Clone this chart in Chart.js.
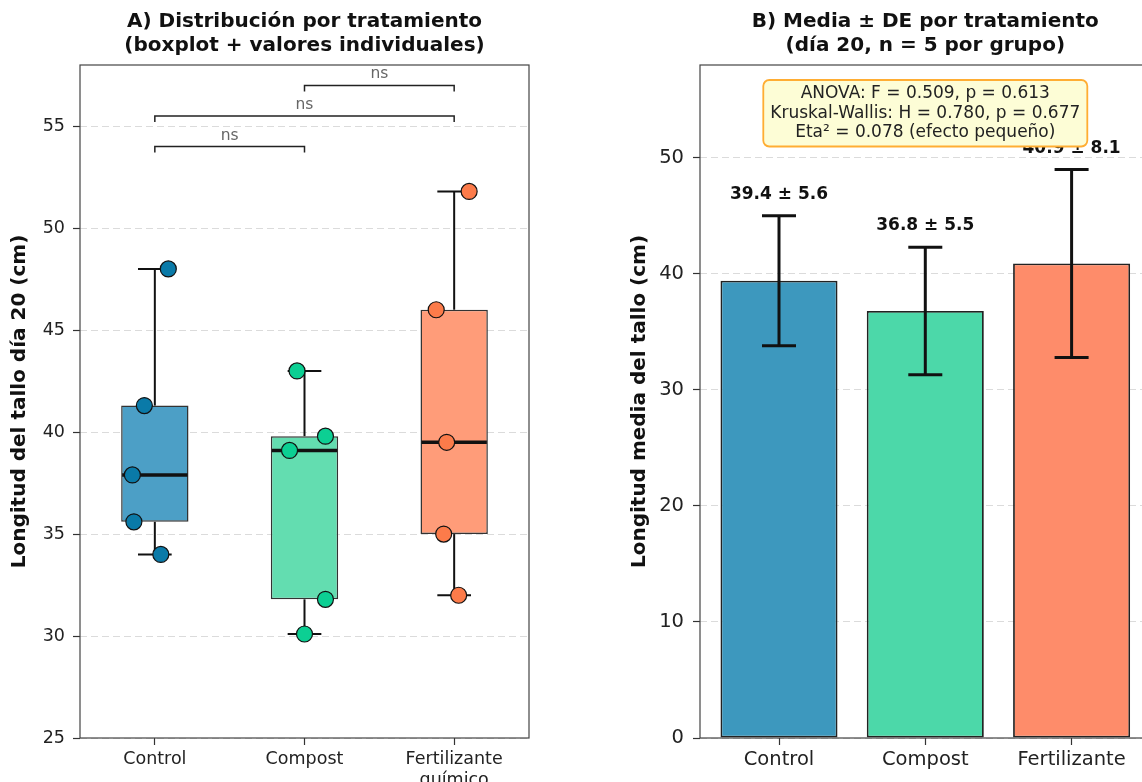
<!DOCTYPE html>
<html lang="es">
<head>
<meta charset="utf-8">
<title>Longitud del tallo por tratamiento</title>
<script src="https://cdn.jsdelivr.net/npm/chart.js@4.4.1/dist/chart.umd.min.js"></script>
<style>
  html, body { margin: 0; padding: 0; background: #fff; overflow: hidden; }
  #wrap { position: relative; width: 1142px; height: 782px; overflow: hidden; }
  #boxChart { position: absolute; left: 0; top: 0; }
  #barChart { position: absolute; left: 580px; top: 0; }
</style>
</head>
<body>
<div id="wrap">
  <canvas id="boxChart"></canvas>
  <canvas id="barChart"></canvas>
</div>
<script>
const categories = ["Control", "Compost", "Fertilizante químico"];
const boxLabels = [["Control"], ["Compost"], ["Fertilizante", "químico"]];
const barLabels = ["Control", "Compost", "Fertilizante"];

// plant length on day 20 (cm), one value per plant
const controlValues = [48.0, 41.3, 37.9, 35.6, 34.0];
const compostValues = [43.0, 39.8, 39.1, 31.8, 30.1];
const fertValues = [51.8, 46.0, 39.5, 35.0, 32.0];
// horizontal jitter of the dots, in category units
const controlJitter = [0.09, -0.07, -0.15, -0.14, 0.04];
const compostJitter = [-0.05, 0.14, -0.10, 0.14, 0.0];
const fertJitter = [0.10, -0.12, -0.05, -0.07, 0.03];

const boxQ1 = [35.6, 31.8, 35.0];
const boxMedian = [37.9, 39.1, 39.5];
const boxQ3 = [41.3, 39.8, 46.0];
const whiskerLow = [34.0, 30.1, 32.0];
const whiskerHigh = [48.0, 43.0, 51.8];

const means = [39.4, 36.8, 40.9];
const sds = [5.6, 5.5, 8.1];

const leftTicks = [25, 30, 35, 40, 45, 50, 55];
const rightTicks = [0, 10, 20, 30, 40, 50];

// [from, to, height] of the significance brackets
const pairs = [[0, 1, 54.0], [0, 2, 55.5], [1, 2, 57.0]];
const pairLabels = ["ns", "ns", "ns"];

const statsLines = [
  "ANOVA: F = 0.509, p = 0.613",
  "Kruskal-Wallis: H = 0.780, p = 0.677",
  "Eta² = 0.078 (efecto pequeño)"
];

const pointColors = ["#0a7aa8", "#0ccf93", "#fc7b4a"];
const boxColors = ["#4c9fc6", "#63ddb0", "#ff9c79"];
const barColors = ["#3d98be", "#4cd8a9", "#fe8c6a"];

const FONT = "DejaVu Sans";
const gridColor = "rgba(0,0,0,0.14)";

const groups = [controlValues, compostValues, fertValues];
const jitters = [controlJitter, compostJitter, fertJitter];
const points = [];
groups.forEach((vals, g) => {
  vals.forEach((v, k) => points.push({ x: g + jitters[g][k], y: v, g: g }));
});

function line(ctx, x1, y1, x2, y2) {
  ctx.beginPath();
  ctx.moveTo(x1, y1);
  ctx.lineTo(x2, y2);
  ctx.stroke();
}

// full axes frame (matplotlib style spines)
const frame = {
  id: "frame",
  afterDraw(chart) {
    const a = chart.chartArea;
    const ctx = chart.ctx;
    ctx.save();
    ctx.strokeStyle = "#444";
    ctx.lineWidth = 1.2;
    ctx.strokeRect(a.left, a.top, a.right - a.left, a.bottom - a.top);
    ctx.restore();
  }
};

// whiskers, caps and median, drawn right after the boxes (before the dots)
const boxWhiskers = {
  id: "boxWhiskers",
  afterDatasetDraw(chart, args) {
    if (args.meta.type !== "bar") return;
    const { ctx, scales: { x, y } } = chart;
    ctx.save();
    ctx.strokeStyle = "#111";
    categories.forEach((c, i) => {
      const cx = x.getPixelForValue(i);
      const half = args.meta.data[i].width / 2;
      ctx.lineWidth = 2;
      line(ctx, cx, y.getPixelForValue(boxQ3[i]), cx, y.getPixelForValue(whiskerHigh[i]));
      line(ctx, cx, y.getPixelForValue(boxQ1[i]), cx, y.getPixelForValue(whiskerLow[i]));
      line(ctx, cx - half / 2, y.getPixelForValue(whiskerHigh[i]), cx + half / 2, y.getPixelForValue(whiskerHigh[i]));
      line(ctx, cx - half / 2, y.getPixelForValue(whiskerLow[i]), cx + half / 2, y.getPixelForValue(whiskerLow[i]));
      ctx.lineWidth = 3.5;
      const ym = y.getPixelForValue(boxMedian[i]);
      line(ctx, cx - half + 1, ym, cx + half - 1, ym);
    });
    ctx.restore();
  }
};

const brackets = {
  id: "brackets",
  afterDatasetsDraw(chart) {
    const { ctx, scales: { x, y } } = chart;
    ctx.save();
    ctx.strokeStyle = "#222";
    ctx.lineWidth = 1.5;
    ctx.fillStyle = "#666";
    ctx.font = "15.5px " + FONT;
    ctx.textAlign = "center";
    ctx.textBaseline = "middle";
    pairs.forEach((p, i) => {
      const x1 = x.getPixelForValue(p[0]);
      const x2 = x.getPixelForValue(p[1]);
      const yy = y.getPixelForValue(p[2]);
      ctx.beginPath();
      ctx.moveTo(x1, yy + 6);
      ctx.lineTo(x1, yy);
      ctx.lineTo(x2, yy);
      ctx.lineTo(x2, yy + 6);
      ctx.stroke();
      ctx.fillText(pairLabels[i], (x1 + x2) / 2, yy - 11);
    });
    ctx.restore();
  }
};

const errorBars = {
  id: "errorBars",
  afterDatasetsDraw(chart) {
    const { ctx, scales: { x, y }, chartArea } = chart;
    ctx.save();
    ctx.strokeStyle = "#111";
    ctx.lineWidth = 3;
    means.forEach((m, i) => {
      const cx = x.getPixelForValue(i);
      const top = y.getPixelForValue(m + sds[i]);
      const bot = y.getPixelForValue(m - sds[i]);
      line(ctx, cx, top, cx, bot);
      line(ctx, cx - 17, top, cx + 17, top);
      line(ctx, cx - 17, bot, cx + 17, bot);
    });
    ctx.fillStyle = "#111";
    ctx.font = "bold 17px " + FONT;
    ctx.textAlign = "center";
    ctx.textBaseline = "middle";
    means.forEach((m, i) => {
      const cx = x.getPixelForValue(i);
      const ty = y.getPixelForValue(m + sds[i] + 1) - 9.5;
      ctx.fillText(m.toFixed(1) + " ± " + sds[i].toFixed(1), cx, ty);
    });

    // statistics box, drawn over everything
    ctx.font = "17px " + FONT;
    const w = Math.max(...statsLines.map(t => ctx.measureText(t).width)) + 14;
    const lh = 19.5;
    const h = statsLines.length * lh + 8;
    const bx = x.getPixelForValue(1) - w / 2;
    const by = chartArea.top + 15;
    ctx.beginPath();
    ctx.roundRect(bx, by, w, h, 6);
    ctx.fillStyle = "#fdfdd6";
    ctx.fill();
    ctx.strokeStyle = "#ffad33";
    ctx.lineWidth = 1.8;
    ctx.stroke();
    ctx.fillStyle = "#222";
    statsLines.forEach((t, k) => {
      ctx.fillText(t, bx + w / 2, by + 4 + lh / 2 + k * lh);
    });
    ctx.restore();
  }
};

// left panel: boxplot + individual values
const boxCanvas = document.getElementById("boxChart");
boxCanvas.width = 580;
boxCanvas.height = 782;
new Chart(boxCanvas, {
  type: "bar",
  data: {
    datasets: [
      {
        type: "scatter",
        order: 1,
        data: points,
        pointRadius: 8,
        pointHoverRadius: 8,
        pointBackgroundColor: (c) => pointColors[c.raw ? c.raw.g : 0],
        pointBorderColor: "#111",
        pointBorderWidth: 1.2
      },
      {
        type: "bar",
        order: 2,
        data: categories.map((c, i) => ({ x: i, y: [boxQ1[i], boxQ3[i]] })),
        backgroundColor: boxColors,
        borderColor: "#333",
        borderWidth: 1.5,
        borderSkipped: false,
        barPercentage: 0.45,
        categoryPercentage: 1
      }
    ]
  },
  options: {
    responsive: false,
    animation: false,
    layout: { padding: { left: 0, right: 51, top: 0, bottom: 0 } },
    plugins: {
      legend: { display: false },
      tooltip: { enabled: false },
      title: {
        display: true,
        fullSize: false,
        text: ["A) Distribución por tratamiento", "(boxplot + valores individuales)"],
        color: "#111",
        font: { family: FONT, size: 20, weight: "bold", lineHeight: 1.2 },
        padding: { top: 10, bottom: 7 }
      }
    },
    scales: {
      x: {
        type: "linear",
        min: -0.5,
        max: 2.5,
        offset: false,
        grid: { offset: false, drawOnChartArea: false, drawTicks: true, tickLength: 7, tickColor: "#333", tickWidth: 1.2 },
        border: { display: false },
        ticks: {
          autoSkip: false,
          maxRotation: 0,
          padding: 4,
          color: "#222",
          font: { family: FONT, size: 17.5, lineHeight: 1.2 },
          callback: (v) => boxLabels[v]
        },
        afterBuildTicks: (s) => { s.ticks = categories.map((c, i) => ({ value: i })); },
        afterFit: (s) => { s.height = 44; }
      },
      y: {
        type: "linear",
        min: 25,
        max: 58,
        grid: { color: gridColor, lineWidth: 1, tickColor: "#333", tickLength: 7, tickWidth: 1.2 },
        border: { display: false, dash: [7, 4] },
        ticks: { padding: 8, color: "#222", font: { family: FONT, size: 17.5 } },
        afterBuildTicks: (s) => { s.ticks = leftTicks.map(v => ({ value: v })); },
        title: {
          display: true,
          text: "Longitud del tallo día 20 (cm)",
          color: "#111",
          font: { family: FONT, size: 20, weight: "bold", lineHeight: 1.2 },
          padding: { top: 8, bottom: 0 }
        },
        afterFit: (s) => { s.width = 80; }
      }
    }
  },
  plugins: [boxWhiskers, brackets, frame]
});

// right panel: mean ± SD
const barCanvas = document.getElementById("barChart");
barCanvas.width = 600;
barCanvas.height = 782;
new Chart(barCanvas, {
  type: "bar",
  data: {
    datasets: [
      {
        data: means.map((m, i) => ({ x: i, y: m })),
        backgroundColor: barColors,
        borderColor: "#222",
        borderWidth: 1.8,
        borderSkipped: false,
        barPercentage: 0.8,
        categoryPercentage: 1
      }
    ]
  },
  options: {
    responsive: false,
    animation: false,
    layout: { padding: { left: 37, right: 29.4, top: 0, bottom: 0 } },
    plugins: {
      legend: { display: false },
      tooltip: { enabled: false },
      title: {
        display: true,
        fullSize: false,
        text: ["B) Media ± DE por tratamiento", "(día 20, n = 5 por grupo)"],
        color: "#111",
        font: { family: FONT, size: 20, weight: "bold", lineHeight: 1.2 },
        padding: { top: 10, bottom: 7 }
      }
    },
    scales: {
      x: {
        type: "linear",
        min: -0.54,
        max: 2.54,
        offset: false,
        grid: { offset: false, drawOnChartArea: false, drawTicks: true, tickLength: 7, tickColor: "#333", tickWidth: 1.2 },
        border: { display: false },
        ticks: {
          autoSkip: false,
          maxRotation: 0,
          padding: 3,
          color: "#222",
          font: { family: FONT, size: 19.5, lineHeight: 1.2 },
          callback: (v) => barLabels[v]
        },
        afterBuildTicks: (s) => { s.ticks = barLabels.map((c, i) => ({ value: i })); },
        afterFit: (s) => { s.height = 44; }
      },
      y: {
        type: "linear",
        min: 0,
        max: 58,
        grid: { color: gridColor, lineWidth: 1, tickColor: "#333", tickLength: 7, tickWidth: 1.2 },
        border: { display: false, dash: [7, 4] },
        ticks: { padding: 9, color: "#222", font: { family: FONT, size: 19.5 } },
        afterBuildTicks: (s) => { s.ticks = rightTicks.map(v => ({ value: v })); },
        title: {
          display: true,
          text: "Longitud media del tallo (cm)",
          color: "#111",
          font: { family: FONT, size: 20, weight: "bold", lineHeight: 1.2 },
          padding: { top: 11, bottom: 0 }
        },
        afterFit: (s) => { s.width = 83; }
      }
    }
  },
  plugins: [errorBars, frame]
});
</script>
</body>
</html>
